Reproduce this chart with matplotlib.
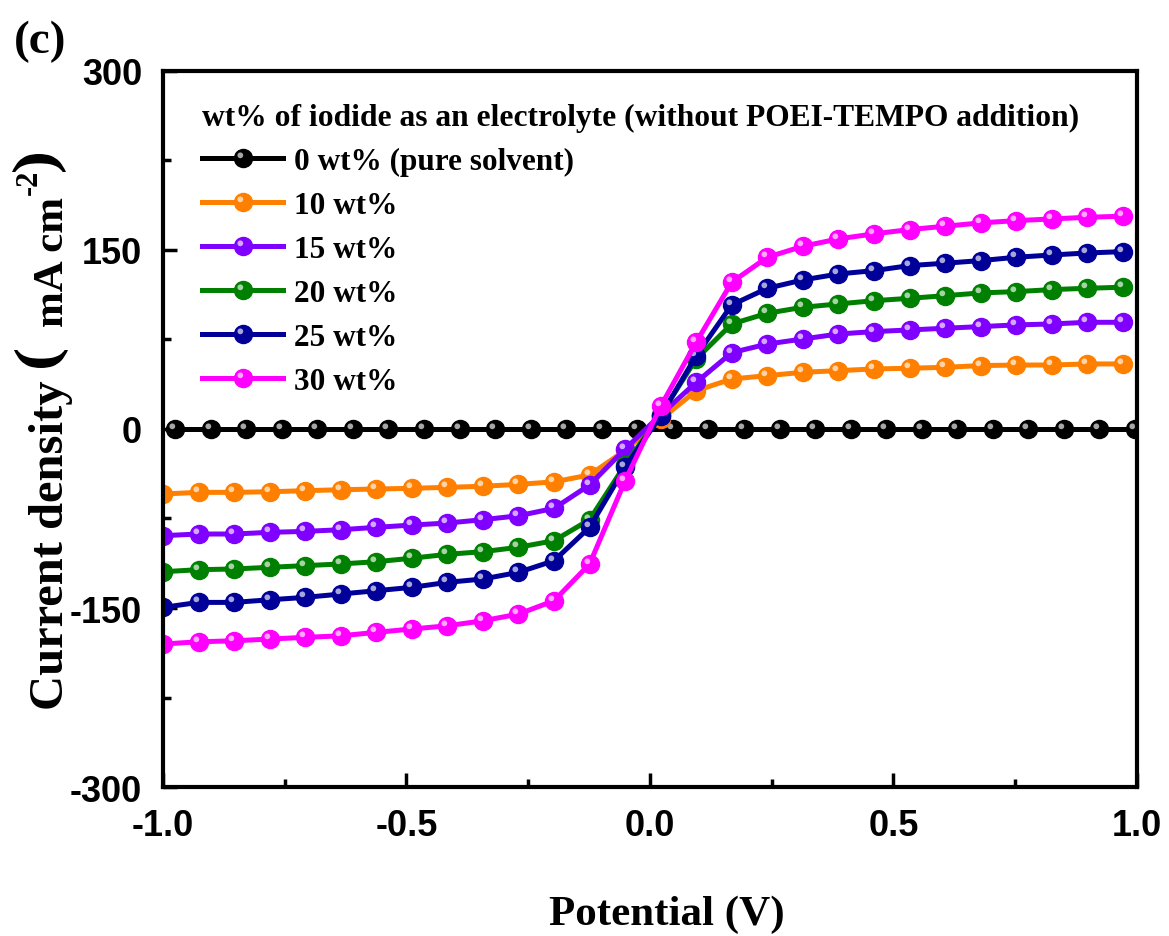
import numpy as np
import matplotlib
matplotlib.use('Agg')
from matplotlib import pyplot as plt
from matplotlib.markers import MarkerStyle
from matplotlib.transforms import Affine2D
from matplotlib.ticker import MultipleLocator
from matplotlib.textpath import TextPath
from matplotlib.patches import PathPatch
from matplotlib.font_manager import FontProperties
import matplotlib.colors as mcolors

#%% data
pot = [-1.000, -0.927, -0.854, -0.781, -0.708, -0.635, -0.562, -0.489, -0.416, -0.343,
       -0.270, -0.197, -0.124, -0.051, 0.022, 0.095, 0.168, 0.241, 0.314, 0.387,
       0.460, 0.533, 0.606, 0.679, 0.752, 0.825, 0.898, 0.971]
pot_0 = [-0.975, -0.902, -0.829, -0.756, -0.683, -0.610, -0.537, -0.464, -0.391, -0.318,
         -0.245, -0.172, -0.099, -0.026, 0.047, 0.120, 0.193, 0.266, 0.339, 0.412,
         0.485, 0.558, 0.631, 0.704, 0.777, 0.850, 0.923, 0.996]

j_0 = [0.0, 0.0, 0.0, 0.0, 0.0, 0.0, 0.0, 0.0, 0.0, 0.0, 0.0, 0.0, 0.0, 0.0,
       0.0, 0.0, 0.0, 0.0, 0.0, 0.0, 0.0, 0.0, 0.0, 0.0, 0.0, 0.0, 0.0, 0.0]
j_10 = [-54.5, -53.1, -53.1, -52.6, -51.7, -50.9, -50.3, -49.7, -48.9, -48.0, -46.4, -44.3,
        -38.5, -18.0, 8.0, 32.1, 41.9, 44.7, 47.5, 48.9, 50.3, 50.9, 51.7, 53.1, 53.6, 53.6,
        54.5, 54.5]
j_15 = [-89.4, -88.0, -88.0, -86.6, -85.8, -84.4, -82.4, -80.5, -78.8, -76.0, -72.7, -66.5,
        -46.9, -16.8, 12.0, 39.1, 64.0, 71.2, 75.4, 79.6, 81.6, 83.0, 84.4, 85.8, 87.2, 88.0,
        89.4, 89.4]
j_20 = [-119.6, -117.9, -117.3, -115.9, -114.5, -113.1, -111.2, -108.3, -105.0, -102.8, -99.1,
        -93.6, -76.0, -30.0, 12.0, 58.7, 88.0, 97.0, 102.0, 104.8, 107.5, 109.5, 111.7, 114.0,
        115.1, 116.8, 117.9, 118.8]
j_25 = [-149.5, -145.3, -145.3, -143.1, -141.1, -138.3, -135.5, -132.7, -128.5, -125.7, -120.1,
        -110.4, -82.4, -32.1, 11.0, 61.4, 104.0, 117.9, 124.9, 129.9, 132.7, 136.9, 138.9, 141.1,
        143.9, 145.8, 147.5, 148.6]
j_30 = [-180.2, -178.3, -177.5, -176.0, -174.6, -173.3, -170.4, -167.6, -164.9, -160.7, -155.1,
        -143.9, -113.2, -43.3, 19.0, 72.7, 123.0, 143.9, 153.1, 159.3, 163.5, 167.1, 169.9, 172.7,
        174.6, 176.0, 177.4, 178.3]

labels = ['0 wt% (pure solvent)', '10 wt%', '15 wt%', '20 wt%', '25 wt%', '30 wt%']
colors = ['#000000', '#FF8000', '#8000FF', '#008000', '#000099', '#FF00FF']
xs = [pot_0, pot, pot, pot, pot, pot]
ys = [j_0, j_10, j_15, j_20, j_25, j_30]

#%% plot
W, H = 1169, 937
fig = plt.figure(figsize=(W / 100, H / 100), dpi=100)
ax = fig.add_axes([0.1394, 0.159, 0.8332, 0.7642])

ms = 13
hl_marker = MarkerStyle('o', transform=Affine2D().translate(-0.55, 0.55))
handles = []
for x, y, c, lab in zip(xs, ys, colors, labels):
    ln, = ax.plot(x, y, '-', color=c, lw=3.6, marker='o', ms=ms, mec=c, mfc=c, label=lab)
    light = mcolors.to_rgb(c)
    light = [v + (1 - v) * 0.65 for v in light]
    hl, = ax.plot(x, y, ls='none', marker=hl_marker, ms=ms * 0.32, mfc=light, mec='none')
    handles.append((ln, hl))

ax.set_xlim(-1.0, 1.0)
ax.set_ylim(-300, 300)
ax.xaxis.set_major_locator(MultipleLocator(0.5))
ax.xaxis.set_minor_locator(MultipleLocator(0.25))
ax.yaxis.set_major_locator(MultipleLocator(150))
ax.yaxis.set_minor_locator(MultipleLocator(75))
ax.set_xticks([-1.0, -0.5, 0.0, 0.5, 1.0], ['-1.0', '-0.5', '0.0', '0.5', '1.0'])
ax.set_yticks([-300, -150, 0, 150, 300], ['-300', '-150', '0', '150', '300'])
ax.tick_params(which='both', direction='in', width=2.5, top=False, right=False)
ax.tick_params(which='major', length=10, pad=15)
ax.tick_params(which='minor', length=6)
for lab in ax.get_xticklabels() + ax.get_yticklabels():
    lab.set_fontfamily('Liberation Sans')
    lab.set_fontweight('bold')
    lab.set_fontsize(26)
for sp in ax.spines.values():
    sp.set_linewidth(3)

serif = dict(fontfamily='Liberation Serif', fontweight='bold')

# x label
fig.text(667 / W, 1 - 925 / H, 'Potential (V)', fontsize=31, ha='center', va='baseline', **serif)

# y label in pieces (pixel positions from top-left), Origin style big brackets
# (text, size, baseline x, centre y)
for txt, size, bx, cy in [('Current density', 35, 63, 545),
                          ('mA cm', 31, 63, 262),
                          ('-2', 22, 37, 182)]:
    fig.text(bx / W, 1 - cy / H, txt, fontsize=size, rotation=90, rotation_mode='anchor',
             ha='center', va='baseline', **serif)

fp = FontProperties(family='Liberation Serif', weight='bold')
for ch, cx, cy in [('(', 41, 360), (')', 39, 164)]:
    tp = TextPath((0, 0), ch, size=60, prop=fp)
    ext = tp.get_extents()
    tr = (Affine2D().translate(-(ext.x0 + ext.x1) / 2, -(ext.y0 + ext.y1) / 2)
          .scale(18 / ext.width, 54 / ext.height).rotate_deg(90).translate(cx, H - cy))
    fig.add_artist(PathPatch(tp, transform=tr, facecolor='black', edgecolor='none'))

leg = ax.legend(handles, labels, loc='upper left', bbox_to_anchor=(0.04, 0.955),
                frameon=False, borderpad=0, borderaxespad=0, handlelength=2.6,
                handletextpad=0.35, labelspacing=0.48,
                title='wt% of iodide as an electrolyte (without POEI-TEMPO addition)',
                alignment='left',
                prop={'family': 'Liberation Serif', 'weight': 'bold', 'size': 22.5},
                title_fontproperties={'family': 'Liberation Serif', 'weight': 'bold', 'size': 22.7})

fig.text(0.012, 0.978, '(c)', fontsize=34, va='top', ha='left', **serif)

fig.savefig('out.png', dpi=100)
